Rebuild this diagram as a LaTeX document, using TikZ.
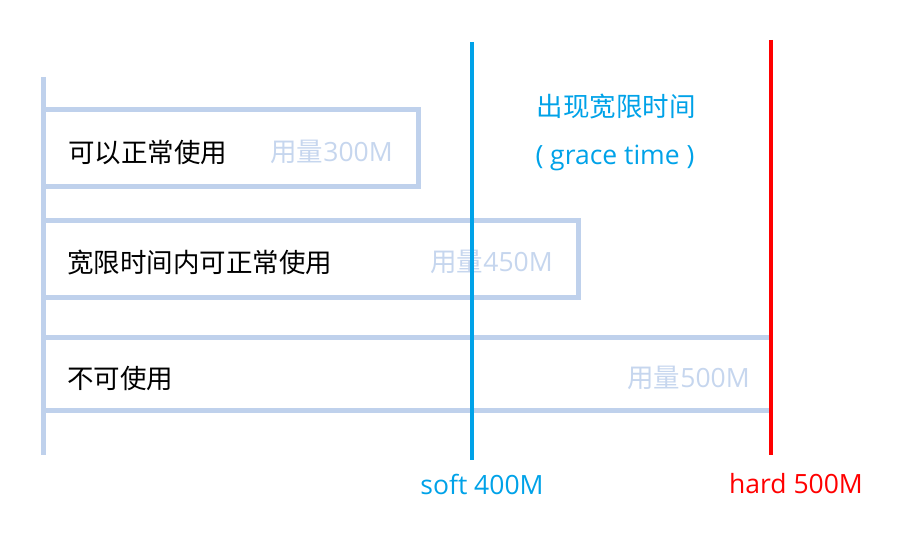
\documentclass[tikz,border=0pt]{standalone}
\usepackage{fontspec}
\setmainfont{Open Sans}
\newfontfamily\cjk{Noto Sans CJK SC}
\begin{document}
\begin{tikzpicture}[x=1pt,y=1pt,
  frame/.style={draw=boxblue,line width=5pt},
  label/.style={font=\fontsize{26.5}{30}\selectfont,inner sep=0pt},
  usage/.style={label,text=usegray},
  limit/.style={line width=4pt}]
\definecolor{boxblue}{HTML}{BFD1EC}
\definecolor{usegray}{HTML}{C6D6EE}
\definecolor{softblue}{HTML}{00A2E8}
\definecolor{hardred}{HTML}{FF0000}
\useasboundingbox (0,0) rectangle (915,550);
% axis
\coordinate (axtop) at (43,473);
\coordinate (axbot) at (43,95);
\draw[frame] (axtop) -- (axbot);
% boxes
\draw[frame] (43,440) rectangle (418,364);
\draw[frame] (43,330) rectangle (578,253);
\coordinate (b3tl) at (43,213);
\coordinate (b3tr) at (770,213);
\coordinate (b3bl) at (43,140);
\coordinate (b3br) at (770,140);
\draw[frame] (b3tl) -- (b3tr);
\draw[frame] (b3bl) -- (b3br);
% texts
\node[label,anchor=west] (t1) at (68,398) {\cjk 可以正常使用};
\node[label,anchor=west] (t2) at (67,288) {\cjk 宽限时间内可正常使用};
\node[label,anchor=west] (t3) at (67,172) {\cjk 不可使用};
\node[usage,anchor=east] (u1) at (393,398) {{\cjk 用量}300M};
\node[usage,anchor=east] (u2) at (553,288) {{\cjk 用量}450M};
\node[usage,anchor=east] (u3) at (750,172) {{\cjk 用量}500M};
% limits
\coordinate (stop) at (472,508);
\coordinate (sbot) at (472,90);
\coordinate (htop) at (771,510);
\coordinate (hbot) at (771,95);
\draw[limit,softblue] (stop) -- (sbot);
\draw[limit,hardred] (htop) -- (hbot);
\node[label,text=softblue] (g1) at (616,444) {\cjk 出现宽限时间};
\node[label,text=softblue] (g2) at (615,392) {( grace time )};
\node[label,text=softblue] (soft) at (482,66) {soft 400M};
\node[label,text=hardred] (hard) at (796,66) {hard 500M};
\end{tikzpicture}
\end{document}
